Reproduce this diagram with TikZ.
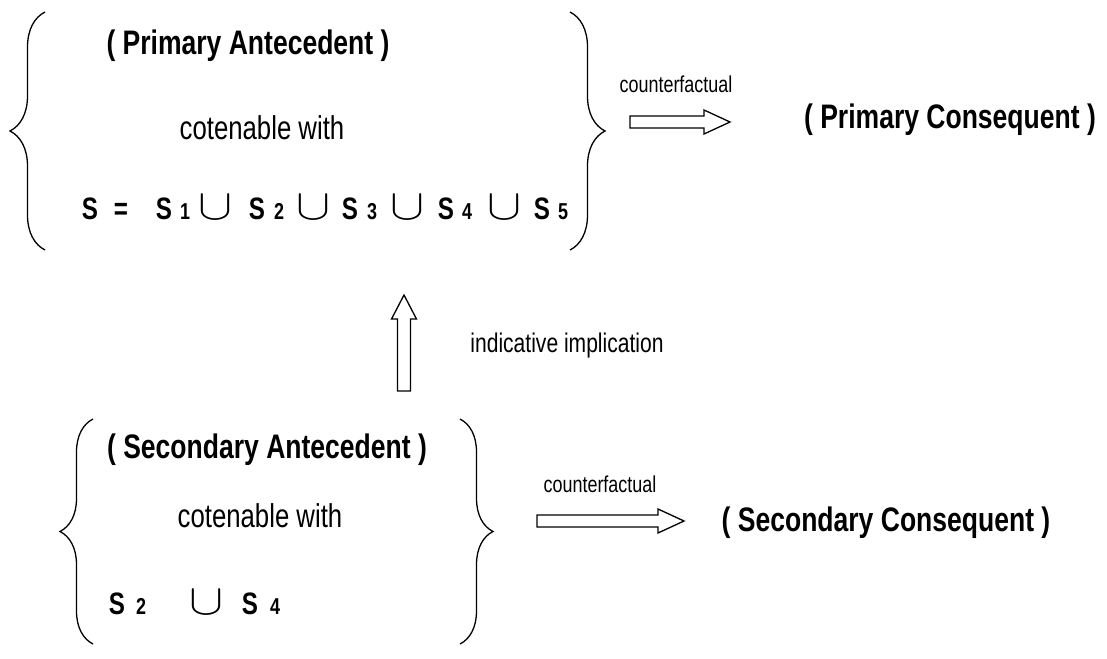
\documentclass[tikz,border=0pt]{standalone}
\usepackage{graphicx}
\usepackage{fontspec}
\setmainfont{Liberation Sans}[FakeStretch=0.78]
\usetikzlibrary{calc, decorations.pathreplacing, positioning}

\tikzset{
  curl/.style={decorate, decoration={brace, amplitude=#1}, line width=1.3pt},
  headtext/.style={font=\fontsize{34}{40}\selectfont\bfseries},
  bodytext/.style={font=\fontsize{33}{38}\selectfont},
  labeltext/.style={font=\fontsize{#1}{30}\selectfont},
  settext/.style={font=\fontsize{31}{36}\selectfont\bfseries, inner sep=0pt, anchor=base},
  subtext/.style={font=\fontsize{23}{26}\selectfont\bfseries, inner sep=0pt, anchor=base},
  cuptext/.style={inner sep=0pt, anchor=base},
  % hollow arrows, drawn as outlines between two named points
  harrow/.style={line width=1.3pt, line join=miter, to path={
    let \p1=(\tikztostart), \p2=(\tikztotarget) in
    ({\x1},{\y1+6pt}) -- ({\x2-26pt},{\y1+6pt}) -- ({\x2-26pt},{\y1+12pt}) -- (\x2,\y1)
    -- ({\x2-26pt},{\y1-12pt}) -- ({\x2-26pt},{\y1-6pt}) -- ({\x1},{\y1-6pt}) -- cycle}},
  varrow/.style={line width=1.3pt, line join=miter, to path={
    let \p1=(\tikztostart), \p2=(\tikztotarget) in
    ({\x1-6.5pt},{\y1}) -- ({\x1-6.5pt},{\y2-24pt}) -- ({\x1-12.5pt},{\y2-24pt}) -- (\x1,\y2)
    -- ({\x1+12.5pt},{\y2-24pt}) -- ({\x1+6.5pt},{\y2-24pt}) -- ({\x1+6.5pt},{\y1}) -- cycle}}
}
\newcommand{\bigcupsign}{\resizebox{34pt}{24pt}{$\cup$}}

\begin{document}
\begin{tikzpicture}[x=1pt, y=-1pt]
    \useasboundingbox (0,0) rectangle (1107,658);

    % =================================================================
    % 1. PRIMARY GROUP
    % =================================================================
    \draw[curl=35pt] (45,250) -- (45,12);
    \draw[curl=35pt] (570,12) -- (570,250);

    \node[headtext] (pa) at (248,46) {( Primary Antecedent )};
    \node[bodytext] (pcot) at (262,128) {cotenable with};

    % S = S1 u S2 u S3 u S4 u S5
    \node[settext] (s) at (90,219) {S};
    \node[settext] (eq) at (121,219) {=};
    \foreach \xs/\xi/\i in {164/185/1, 257/279/2, 350/372/3, 446/467/4, 542/563/5}{
        \node[settext] (s\i) at (\xs,219) {S};
        \node[subtext] (n\i) at (\xi,219) {\i};
    }
    \foreach \xc/\j in {216/1, 314/2, 408/3, 504/4}
        \node[cuptext] (cup\j) at (\xc,219) {\bigcupsign};

    \node[labeltext=23] (cfa) at (676,84) {counterfactual};
    \node[headtext] (pc) at (950,120) {( Primary Consequent )};
    \coordinate (cfa-from) at (630,122);
    \coordinate (cfa-to) at (730,122);
    \draw[harrow] (cfa-from) to (cfa-to);

    % =================================================================
    % 2. INDICATIVE IMPLICATION
    % =================================================================
    \coordinate (ind-from) at (404,391);
    \coordinate (ind-to) at (404,295);
    \draw[varrow] (ind-from) to (ind-to);
    \node[labeltext=27] (ind) at (567,346) {indicative implication};

    % =================================================================
    % 3. SECONDARY GROUP
    % =================================================================
    \draw[curl=33pt] (93,644) -- (93,419);
    \draw[curl=33pt] (460,419) -- (460,644);

    \node[headtext] (sa) at (267,450) {( Secondary Antecedent )};
    \node[bodytext] (scot) at (260,516) {cotenable with};

    \node[settext] (t2) at (117,614) {S};
    \node[subtext] (m2) at (141,614) {2};
    \node[cuptext] (cupb) at (207,614) {\bigcupsign};
    \node[settext] (t4) at (250,614) {S};
    \node[subtext] (m4) at (275,614) {4};

    \node[labeltext=23] (cfb) at (600,484) {counterfactual};
    \node[headtext] (sc) at (886,523) {( Secondary Consequent )};
    \coordinate (cfb-from) at (537,521);
    \coordinate (cfb-to) at (684,521);
    \draw[harrow] (cfb-from) to (cfb-to);

\end{tikzpicture}
\end{document}
